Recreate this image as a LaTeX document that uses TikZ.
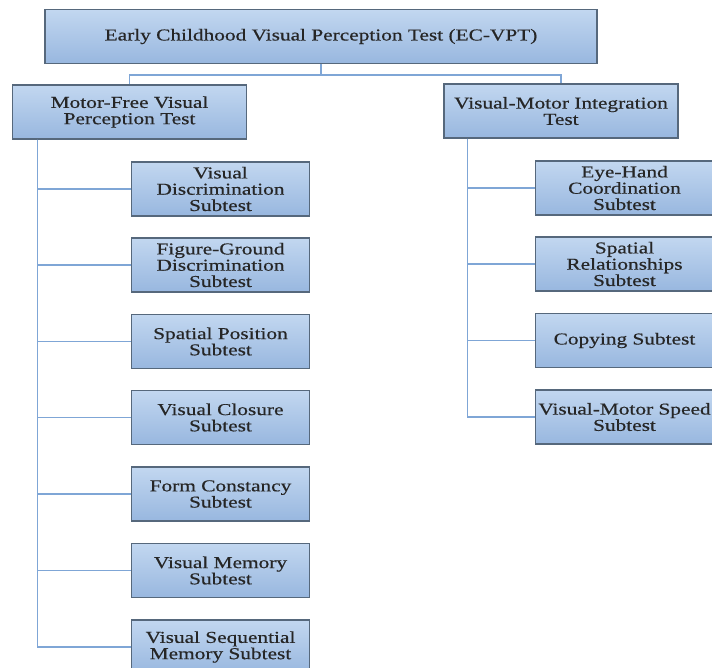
\documentclass[tikz,border=0pt]{standalone}
\usepackage{fontspec}
\setmainfont{Liberation Serif}[FakeStretch=1.28, FakeBold=0.5]
\usepackage{xcolor}
\usetikzlibrary{positioning}

\definecolor{boxtop}{HTML}{C2D7F0}
\definecolor{boxbot}{HTML}{98B7DF}
\definecolor{boxline}{HTML}{56687C}
\definecolor{linkblue}{HTML}{7FA6D6}

\begin{document}
\begin{tikzpicture}[
  x=0.75pt, y=-0.75pt,
  box/.style={draw=boxline, line width=0.9pt, top color=boxtop, bottom color=boxbot,
              align=center, inner sep=0pt, minimum height=40.5pt,
              font=\fontsize{12.5}{12.2}\selectfont, text=black!85},
  subbox/.style={box, minimum width=134pt},
  link/.style={draw=linkblue, line width=1.1pt}
]
\useasboundingbox (0,0) rectangle (712,667);
\fill[white] (0,0) rectangle (712,667);
\clip (0,0) rectangle (712,667);

% main test and its two parts
\node[box, minimum width=414pt] (ecvpt) at (321,36.5) {Early Childhood Visual Perception Test (EC-VPT)};
\node[box, minimum width=175pt] (mf)  at (129.5,112) {Motor-Free Visual\\Perception Test};
\node[box, minimum width=175.5pt] (vmi) at (561,111) {Visual-Motor Integration\\Test};

% motor-free subtests
\node[subbox] (vd)  at (220.5,189)   {Visual\\Discrimination\\Subtest};
\node[subbox] (fg)  at (220.5,265)   {Figure-Ground\\Discrimination\\Subtest};
\node[subbox] (sp)  at (220.5,341.5) {Spatial Position\\Subtest};
\node[subbox] (vc)  at (220.5,417.5) {Visual Closure\\Subtest};
\node[subbox] (fc)  at (220.5,494)   {Form Constancy\\Subtest};
\node[subbox] (vm)  at (220.5,570.5) {Visual Memory\\Subtest};
\node[subbox] (vsm) at (220.5,647)   {Visual Sequential\\Memory Subtest};

% visual-motor subtests
\node[subbox] (eh)  at (624.5,188)   {Eye-Hand\\Coordination\\Subtest};
\node[subbox] (sr)  at (624.5,264)   {Spatial\\Relationships\\Subtest};
\node[subbox] (cp)  at (624.5,340.5) {Copying Subtest};
\node[subbox] (vms) at (624.5,417)   {Visual-Motor Speed\\Subtest};

% connectors
\draw[link] (ecvpt.south) -- ++(0,11) -| (mf.north);
\draw[link] (ecvpt.south) -- ++(0,11) -| (vmi.north);
\coordinate (mftrunk)  at ([xshift=18.75pt]mf.south west);
\coordinate (vmitrunk) at ([xshift=18pt]vmi.south west);
\foreach \s in {vd,fg,sp,vc,fc,vm,vsm}
  \draw[link] (mftrunk) |- (\s.west);
\foreach \s in {eh,sr,cp,vms}
  \draw[link] (vmitrunk) |- (\s.west);
\end{tikzpicture}
\end{document}
